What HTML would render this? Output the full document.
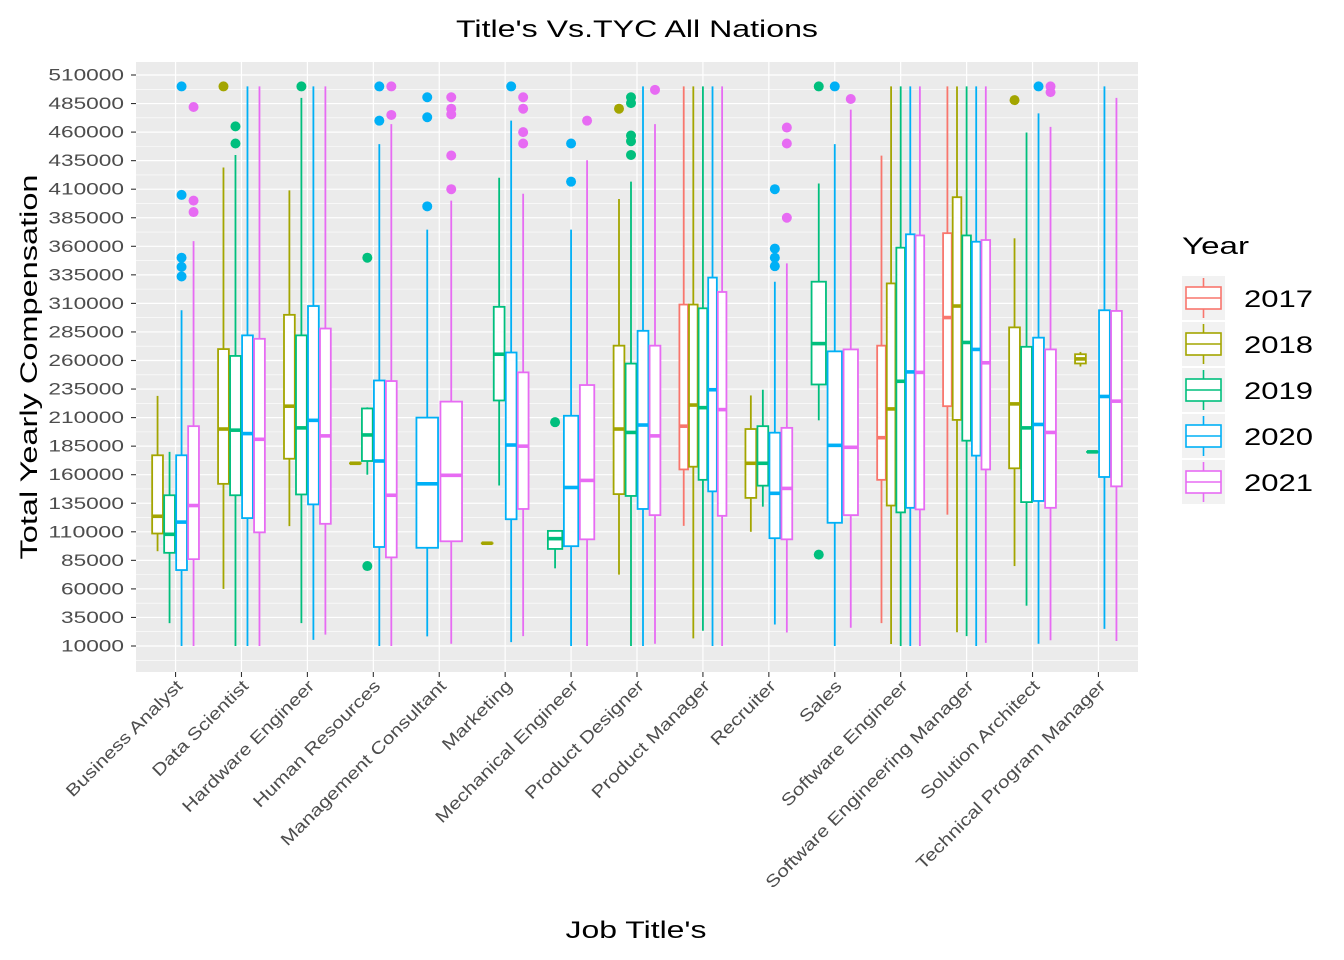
<!DOCTYPE html>
<html><head><meta charset="utf-8"><style>
body{margin:0;background:#fff;}
svg{display:block;font-family:"Liberation Sans",Arial,sans-serif;}
</style></head><body>
<svg id="chart" width="1344" height="960">
<rect x="0" y="0" width="1344" height="960" fill="#fff"/>
<g id="grid"></g><g id="marks"></g><g id="axes"></g>
<text x="637" y="37" text-anchor="middle" font-size="24" textLength="362" lengthAdjust="spacingAndGlyphs" fill="#000">Title's Vs.TYC All Nations</text>
<text x="636" y="938" text-anchor="middle" font-size="24" textLength="141" lengthAdjust="spacingAndGlyphs" fill="#000">Job Title's</text>
<text transform="translate(37,367) rotate(-90)" text-anchor="middle" font-size="24" textLength="385" lengthAdjust="spacingAndGlyphs" fill="#000">Total Yearly Compensation</text>
<g id="legend"><text x="1182" y="254" font-size="24" textLength="67" lengthAdjust="spacingAndGlyphs" fill="#000">Year</text></g>
</svg>
<script>
const categories=["Business Analyst","Data Scientist","Hardware Engineer","Human Resources","Management Consultant","Marketing","Mechanical Engineer","Product Designer","Product Manager","Recruiter","Sales","Software Engineer","Software Engineering Manager","Solution Architect","Technical Program Manager"];
const years=[2017,2018,2019,2020,2021];
const yearColors=["#F8766D","#A3A500","#00BF7D","#00B0F6","#E76BF3"];
const yTicks=[10000,35000,60000,85000,110000,135000,160000,185000,210000,235000,260000,285000,310000,335000,360000,385000,410000,435000,460000,485000,510000];
// [category index, year, lower whisker, q1, median, q3, upper whisker] (thousands)
const boxStats=[
[0,2018,93,108.5,123.6,177,229],[0,2019,30,91.6,107.8,142,180],[0,2020,10,76.5,118.5,177,304],[0,2021,10,86,133,202.5,364.5],
[1,2018,60,152,200,270,429],[1,2019,10,142,199,264,440],[1,2020,10,122,196,282,500],[1,2021,10,109.5,191,279,500],
[2,2018,115,174,220,300,409],[2,2019,30,142.7,201,282,490],[2,2020,15.4,134,207.6,307.7,500],[2,2021,20,117,194,288,500],
[3,2018,170,170,170,170,170],[3,2019,160,172,194.8,218,219],[3,2020,10,96.7,172,242.5,449.5],[3,2021,10,87.6,142,242,467],
[4,2020,18.4,96,152,210,374.6],[4,2021,12,101.7,159.5,224,400],
[5,2018,100,100,100,100,100],[5,2019,150.5,225,265.5,307,420],[5,2020,13.4,121,186,267,470],[5,2021,18.7,130,185,249.6,406],
[6,2019,78,95,104,110.8,110.8],[6,2020,10,97.4,148.8,211.6,374.6],[6,2021,10,103.4,155,238.5,435.4],
[7,2018,72.5,143,200,273,401.4],[7,2019,10,141.4,197,257.3,416.6],[7,2020,10,130,203.5,286,500],[7,2021,12,124.6,194,273,467],
[8,2017,115.2,164.6,202.5,309,500],[8,2018,16.7,167,221,309,500],[8,2019,23.4,155.5,218.7,305.7,500],[8,2020,10,145.4,234.4,332.6,500],[8,2021,10,124,217,320,500],
[9,2018,110,139.7,170,200,229.4],[9,2019,132,150.4,170,202.5,234.4],[9,2020,28.8,104.4,143.7,196.8,329],[9,2021,21.8,103.4,148,201,345],
[10,2019,207.6,239,274.8,329,415],[10,2020,10,117.9,185.7,268,449.5],[10,2021,26,124.6,184,269.7,479.7],
[11,2017,30,155.5,192.4,273,439.4],[11,2018,11.7,133,217.6,327.5,500],[11,2019,10,127,241.8,358.8,500],[11,2020,10,131,250,370.5,500],[11,2021,10,129.6,249.6,369.5,500],
[12,2017,125,220,297.6,371.5,500],[12,2018,22,208,307.7,403,500],[12,2019,18.7,189.8,275.8,369.5,500],[12,2020,10,176.7,269.7,364,500],[12,2021,12.7,164.6,258,365.5,500],
[13,2018,80,165.6,222,289,367],[13,2019,45.3,136,201,272,459.6],[13,2020,12,137,204,280,476.4],[13,2021,15,131,197,269.7,464.6],
[14,2018,254.7,257.4,261.4,265.5,267.5],[14,2019,180,180,180,180,180],[14,2020,25,158,228.5,304,500],[14,2021,14.4,149.8,224.4,303.4,490]
];
// [category index, year, value] (thousands)
const outliers=[
[0,2020,500],[0,2020,405],[0,2020,350],[0,2020,342],[0,2020,333.6],[0,2021,482],[0,2021,400],[0,2021,390],
[1,2018,500],[1,2019,465],[1,2019,450],
[2,2019,500],
[3,2019,350],[3,2019,80],[3,2020,500],[3,2020,470],[3,2021,500],[3,2021,475],
[4,2020,490.5],[4,2020,473],[4,2020,395],[4,2021,490.5],[4,2021,480.5],[4,2021,475.5],[4,2021,439.5],[4,2021,410],
[5,2020,500],[5,2021,490.5],[5,2021,480.5],[5,2021,460],[5,2021,450],
[6,2019,206],[6,2020,450],[6,2020,416.6],[6,2021,470],
[7,2018,480.5],[7,2019,490.5],[7,2019,485.4],[7,2019,457],[7,2019,452],[7,2019,440],[7,2021,497],
[9,2020,410],[9,2020,358],[9,2020,350],[9,2020,342.6],[9,2021,464],[9,2021,450],[9,2021,385],
[10,2019,500],[10,2019,90],[10,2020,500],[10,2021,489],
[13,2018,488],[13,2020,500],[13,2021,500],[13,2021,495]
];
const NS="http://www.w3.org/2000/svg";
const PX0=136,PX1=1138,PY0=62,PY1=672;
function yS(v){return 646-(v-10000)*0.001142;}
function xS(i){return PX0+(0.6+i)*(PX1-PX0)/15.2;}
function mk(tag,attrs,parent){const e=document.createElementNS(NS,tag);for(const k in attrs)e.setAttribute(k,attrs[k]);parent.appendChild(e);return e;}
const grid=document.getElementById('grid'),marks=document.getElementById('marks'),axes=document.getElementById('axes');
const bg=mk('rect',{x:PX0,y:PY0,width:PX1-PX0,height:PY1-PY0,fill:'#EBEBEB'},grid);


const step=yTicks[1]-yTicks[0];
for(let v=yTicks[0]-step/2;v<=yTicks[yTicks.length-1]+step;v+=step){const y=yS(v);if(y>PY0&&y<PY1)mk('line',{x1:PX0,x2:PX1,y1:y,y2:y,stroke:'#fff','stroke-width':0.6},grid);}
yTicks.forEach(t=>{const y=yS(t);
mk('line',{x1:PX0,x2:PX1,y1:y,y2:y,stroke:'#fff','stroke-width':1.2},grid);
mk('line',{x1:131,x2:PX0,y1:y,y2:y,stroke:'#333','stroke-width':1.1},axes);
const s=String(t);
const tx=mk('text',{x:124,y:y+5.5,'text-anchor':'end','font-size':17,fill:'#4D4D4D',textLength:s.length*12.6,lengthAdjust:'spacingAndGlyphs'},axes);tx.textContent=s;


});
categories.forEach((c,i)=>{const x=xS(i);
mk('line',{x1:x,x2:x,y1:PY0,y2:PY1,stroke:'#fff','stroke-width':1.2},grid);
mk('line',{x1:x,x2:x,y1:PY1,y2:PY1+5,stroke:'#333','stroke-width':1.1},axes);
const tx=mk('text',{transform:`translate(${x+8},${PY1+15}) rotate(-45)`,'text-anchor':'end','font-size':17,fill:'#4D4D4D'},axes);tx.textContent=c;


const L=tx.getComputedTextLength();
tx.setAttribute('textLength',L*1.22);
tx.setAttribute('lengthAdjust','spacingAndGlyphs');
});
const SPAN=48;
function groupX(ci,yr){const ys=boxStats.filter(r=>r[0]===ci).map(r=>r[1]);const n=ys.length;const k=ys.indexOf(yr);const slot=SPAN/n;return {cx:xS(ci)+(k-(n-1)/2)*slot,w:slot*0.9};}
boxStats.forEach(r=>{const [ci,yr,lo,q1,md,q3,hi]=r;const col=yearColors[years.indexOf(yr)];const {cx,w}=groupX(ci,yr);
const g=mk('g',{},marks);


mk('line',{x1:cx,x2:cx,y1:yS(hi*1000),y2:yS(q3*1000),stroke:col,'stroke-width':1.8},g);
mk('line',{x1:cx,x2:cx,y1:yS(q1*1000),y2:yS(lo*1000),stroke:col,'stroke-width':1.8},g);
mk('rect',{x:cx-w/2,y:yS(q3*1000),width:w,height:Math.max(0.1,yS(q1*1000)-yS(q3*1000)),fill:'#fff',stroke:col,'stroke-width':1.8},g);
mk('line',{x1:cx-w/2,x2:cx+w/2,y1:yS(md*1000),y2:yS(md*1000),stroke:col,'stroke-width':3.6},g);
});
outliers.forEach(o=>{const [ci,yr,v]=o;const col=yearColors[years.indexOf(yr)];const {cx}=groupX(ci,yr);
const p=mk('circle',{cx:cx,cy:yS(v*1000),r:5,fill:col},marks);


});
const lg=document.getElementById('legend');
years.forEach((yr,k)=>{const y0=276+k*46;const col=yearColors[k];
const g=mk('g',{},lg);


mk('rect',{x:1182,y:y0,width:43,height:44,fill:'#F2F2F2'},g);
mk('line',{x1:1203.5,x2:1203.5,y1:y0+2,y2:y0+42,stroke:col,'stroke-width':1.6},g);
mk('rect',{x:1186,y:y0+11,width:35,height:22,fill:'#fff',stroke:col,'stroke-width':1.6},g);
mk('line',{x1:1186,x2:1221,y1:y0+22,y2:y0+22,stroke:col,'stroke-width':1.6},g);
const t=mk('text',{x:1244,y:y0+31,'font-size':24,fill:'#000',textLength:69,lengthAdjust:'spacingAndGlyphs'},g);t.textContent=yr;
});
</script>
</body></html>
